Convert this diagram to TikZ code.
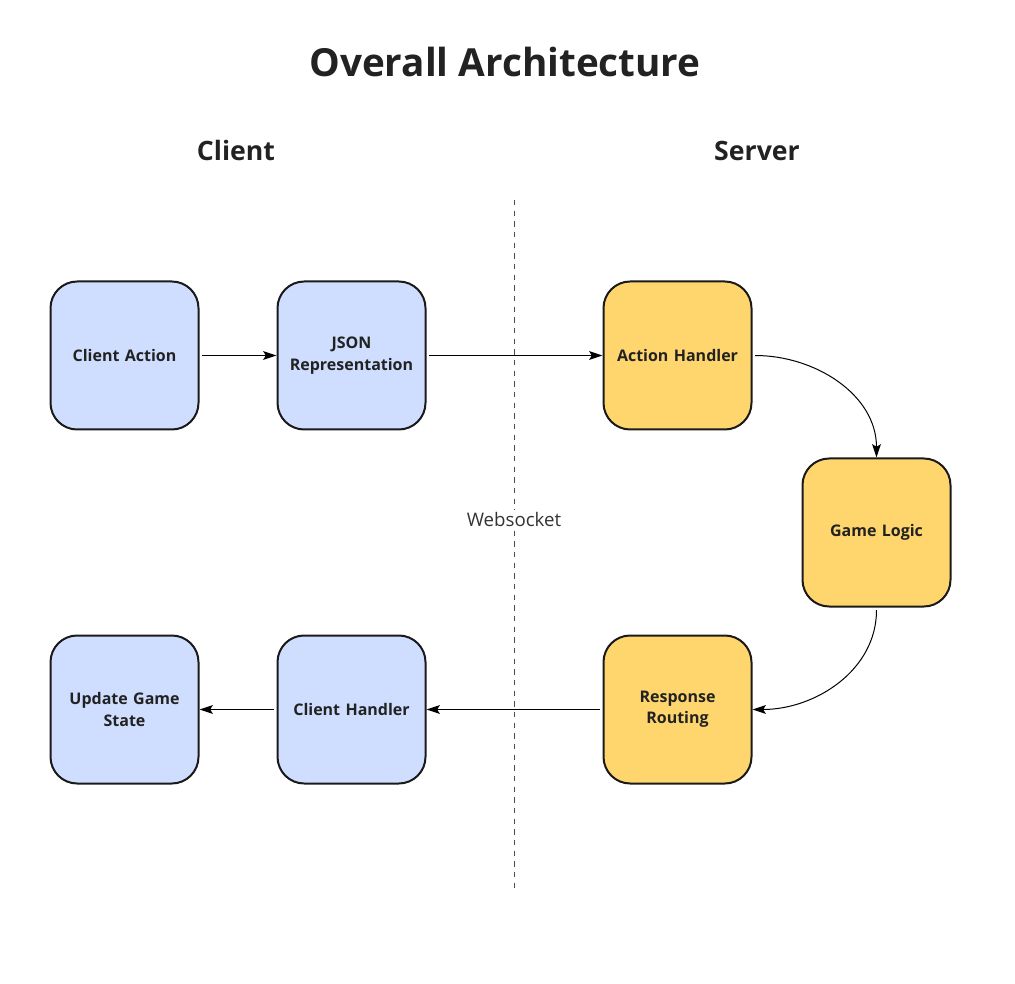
\documentclass[tikz,border=0pt]{standalone}
\usepackage{fontspec}
\setmainfont{Open Sans}
\usetikzlibrary{arrows.meta}
\definecolor{cblue}{HTML}{CFDEFF}
\definecolor{cyellow}{HTML}{FFD66E}
\definecolor{cstroke}{HTML}{1A1A1A}
\definecolor{ctext}{HTML}{222222}
\tikzset{
  box/.style={draw=cstroke, line width=1.5pt, rounded corners=20pt,
    minimum width=111pt, minimum height=111pt, inner sep=0pt,
    align=center, text=ctext, font=\fontsize{12}{16}\selectfont\bfseries, text width=100pt},
  clientbox/.style={box, fill=cblue},
  serverbox/.style={box, fill=cyellow},
  conn/.style={draw=black, line width=0.75pt, -{Stealth[length=10pt,width=6.5pt,inset=2pt]}},
  heading/.style={text=ctext, font=\fontsize{20}{24}\selectfont\bfseries},
}
\begin{document}
\begin{tikzpicture}[x=0.75pt,y=-0.75pt]
\useasboundingbox (0,0) rectangle (1015,984);
\node[text=ctext, font=\fontsize{29}{34}\selectfont\bfseries] (title) at (505,62) {Overall Architecture};
\node[heading] (client) at (236,151) {Client};
\node[heading] (server) at (757,151) {Server};
\coordinate (dtop) at (514,200);
\coordinate (dbot) at (514,892);
\draw[line width=0.75pt, dash pattern=on 4pt off 4pt, draw=black!70] (dtop) -- (dbot);
\node[fill=white, inner sep=2pt, text=black!80, font=\fontsize{14}{17}\selectfont] (ws) at (514,520) {Websocket};

\node[clientbox] (ca) at (124.5,355.5) {Client Action};
\node[clientbox] (json) at (351.5,355.5) {JSON\\Representation};
\node[serverbox] (ah) at (677.5,355.5) {Action Handler};
\node[serverbox] (gl) at (876.5,532.5) {Game Logic};
\node[serverbox] (rr) at (677.5,709.5) {Response\\Routing};
\node[clientbox] (ch) at (351.5,709.5) {Client Handler};
\node[clientbox] (ug) at (124.5,709.5) {Update Game\\State};

\draw[conn, shorten <=2pt] (ca) -- (json);
\draw[conn, shorten <=2pt] (json) -- (ah);
\draw[conn, shorten <=2pt] (ah.east) to[out=0,in=90] (gl.north);
\draw[conn, shorten <=2pt] (gl.south) to[out=-90,in=0] (rr.east);
\draw[conn, shorten <=2pt] (rr) -- (ch);
\draw[conn, shorten <=2pt] (ch) -- (ug);
\end{tikzpicture}
\end{document}
